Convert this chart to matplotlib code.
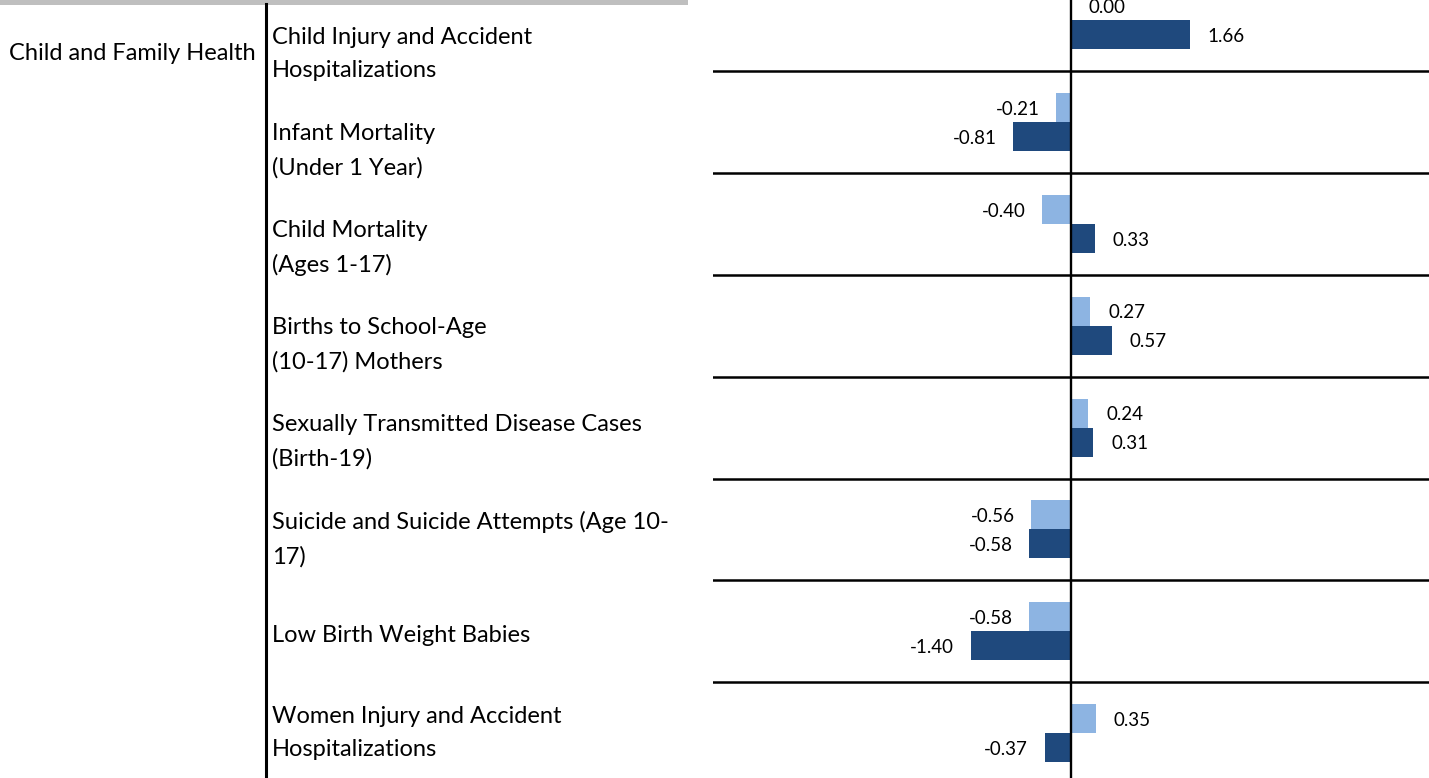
import matplotlib.pyplot as plt
from matplotlib.lines import Line2D
from matplotlib.patches import Rectangle

plt.rcParams['font.family'] = ['Lato', 'DejaVu Sans']

group_name = "Child and Family Health"
indicators = [
    "Child Injury and Accident\nHospitalizations",
    "Infant Mortality\n(Under 1 Year)",
    "Child Mortality\n(Ages 1-17)",
    "Births to School-Age\n(10-17) Mothers",
    "Sexually Transmitted Disease Cases\n(Birth-19)",
    "Suicide and Suicide Attempts (Age 10-\n17)",
    "Low Birth Weight Babies",
    "Women Injury and Accident\nHospitalizations",
]
light_vals = [0.00, -0.21, -0.40, 0.27, 0.24, -0.56, -0.58, 0.35]
dark_vals = [1.66, -0.81, 0.33, 0.57, 0.31, -0.58, -1.40, -0.37]

light_col = '#8db4e2'
dark_col = '#1f497d'

W, H = 1429, 778
fig = plt.figure(figsize=(W / 100, H / 100), dpi=100)

# bar panel on the right
ax = fig.add_axes([713 / W, 0, 716 / W, 1])
bh = 0.285
ys = list(range(len(indicators)))
ax.barh([y - bh / 2 for y in ys], light_vals, height=bh, color=light_col)
ax.barh([y + bh / 2 for y in ys], dark_vals, height=bh, color=dark_col)

for y, lv, dv in zip(ys, light_vals, dark_vals):
    for v, yy in ((lv, y - bh / 2), (dv, y + bh / 2)):
        off = 0.25 if v >= 0 else -0.23
        ax.text(v + off, yy + 0.015, f"{v:.2f}", ha='left' if v >= 0 else 'right',
                va='center', fontsize=13.5)

for y in ys[:-1]:
    ax.axhline(y + 0.5, color='black', lw=1.8)
ax.axvline(0, color='black', lw=1.7)

ax.set_xlim(-5, 5)
ax.set_ylim(7.442, -0.201)
ax.axis('off')

# left table part
fig.add_artist(Rectangle((0, 1 - 5 / H), 688 / W, 5 / H, transform=fig.transFigure,
                         color='#bfbfbf', lw=0))
fig.add_artist(Line2D([266 / W, 266 / W], [0, 1 - 4 / H], transform=fig.transFigure,
                      color='black', lw=2.2))

fig.text(132 / W, 1 - 54 / H, group_name, ha='center', va='center', fontsize=17)
for i, lab in enumerate(indicators):
    ypix = 54 + 97 * i
    fig.text(272 / W, 1 - ypix / H, lab, ha='left', va='center', fontsize=17,
             linespacing=1.72)

fig.savefig('out.png', dpi=100)
